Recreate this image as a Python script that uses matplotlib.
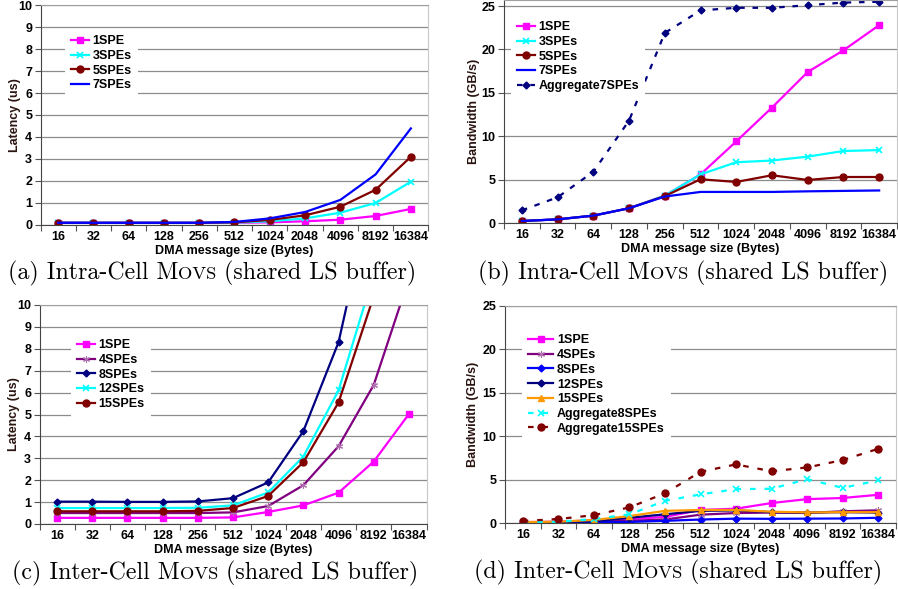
import matplotlib
matplotlib.use("Agg")
import matplotlib.pyplot as plt
from matplotlib.offsetbox import TextArea, HPacker, AnchoredOffsetbox

# message sizes on the x axis (categorical)
sizes = ["16", "32", "64", "128", "256", "512", "1024", "2048", "4096", "8192", "16384"]

# (a) intra-cell latency (us)
a_1spe = [0.1, 0.1, 0.1, 0.1, 0.1, 0.1, 0.12, 0.17, 0.24, 0.41, 0.73]
a_3spe = [0.1, 0.1, 0.1, 0.1, 0.1, 0.11, 0.17, 0.3, 0.56, 1.0, 1.97]
a_5spe = [0.1, 0.1, 0.1, 0.1, 0.1, 0.12, 0.23, 0.44, 0.83, 1.6, 3.1]
a_7spe = [0.1, 0.1, 0.1, 0.1, 0.1, 0.14, 0.3, 0.59, 1.14, 2.3, 4.39]

# (b) intra-cell bandwidth (GB/s)
b_1spe = [0.23, 0.42, 0.85, 1.7, 3.15, 5.6, 9.4, 13.3, 17.4, 19.9, 22.8]
b_3spe = [0.23, 0.42, 0.85, 1.7, 3.15, 5.6, 7.0, 7.2, 7.65, 8.3, 8.4]
b_5spe = [0.23, 0.42, 0.85, 1.7, 3.1, 5.04, 4.73, 5.5, 4.96, 5.3, 5.3]
b_7spe = [0.23, 0.42, 0.85, 1.7, 3.05, 3.58, 3.58, 3.58, 3.65, 3.7, 3.75]
b_agg7 = [1.46, 2.96, 5.9, 11.8, 21.9, 24.5, 24.8, 24.8, 25.1, 25.4, 25.5]

# (c) inter-cell latency (us)
c_1spe = [0.28, 0.28, 0.28, 0.28, 0.28, 0.3, 0.55, 0.85, 1.43, 2.85, 5.02]
c_4spe = [0.5, 0.5, 0.5, 0.5, 0.5, 0.53, 0.82, 1.77, 3.55, 6.35, 11.2]
c_8spe = [1.02, 1.02, 1.01, 1.01, 1.03, 1.18, 1.9, 4.24, 8.3, 15.5, 31.0]
c_12spe = [0.73, 0.73, 0.73, 0.73, 0.74, 0.85, 1.44, 3.08, 6.1, 11.4, 22.0]
c_15spe = [0.58, 0.58, 0.58, 0.58, 0.6, 0.73, 1.28, 2.82, 5.55, 10.4, 20.0]

# (d) inter-cell bandwidth (GB/s)
d_1spe = [0.1, 0.15, 0.3, 0.45, 0.7, 1.5, 1.65, 2.3, 2.75, 2.88, 3.25]
d_4spe = [0.05, 0.08, 0.15, 0.25, 0.4, 0.96, 1.15, 1.2, 1.15, 1.35, 1.46]
d_8spe = [0.03, 0.05, 0.08, 0.12, 0.25, 0.4, 0.5, 0.48, 0.5, 0.52, 0.6]
d_12spe = [0.05, 0.1, 0.2, 0.6, 1.0, 1.4, 1.45, 1.25, 1.2, 1.25, 1.2]
d_15spe = [0.1, 0.15, 0.35, 0.8, 1.4, 1.5, 1.5, 1.3, 1.22, 1.25, 1.25]
d_agg8 = [0.05, 0.15, 0.45, 1.0, 2.55, 3.3, 3.9, 3.95, 5.05, 4.05, 4.9]
d_agg15 = [0.23, 0.46, 0.9, 1.8, 3.42, 5.9, 6.75, 5.96, 6.4, 7.25, 8.55]

MAGENTA = "#ff00ff"
CYAN = "#00ffff"
DARKRED = "#800000"
BLUE = "#0000ff"
NAVY = "#000080"
PURPLE = "#800080"
ORANGE = "#ff9900"
STAR = (6, 2, 0)

W, H = 898, 589
FS = 9
plt.rcParams["font.family"] = ["Liberation Sans", "DejaVu Sans"]
plt.rcParams["font.weight"] = "bold"

fig = plt.figure(figsize=(W / 100, H / 100), dpi=100)


def make_axes(left, right, top, bottom, ymax, ystep, ylabel, label_x):
    ax = fig.add_axes([left / W, 1 - bottom / H, (right - left) / W, (bottom - top) / H])
    x = list(range(len(sizes)))
    ax.set_xlim(-0.5, len(sizes) - 0.5)
    ax.set_ylim(0, ymax)
    ax.set_xticks(x)
    ax.set_xticklabels(sizes, fontsize=FS, fontweight="bold")
    ax.set_xticks([i + 0.5 for i in range(-1, len(sizes))], minor=True)
    ax.tick_params(axis="x", which="major", length=0, pad=4)
    ax.tick_params(axis="x", which="minor", length=4, width=0.8, color="#555555")
    ticks = list(range(0, int(ymax) + 1, ystep))
    ax.set_yticks(ticks)
    ax.set_yticklabels([str(t) for t in ticks], fontsize=FS, fontweight="bold")
    ax.tick_params(axis="y", length=4, width=0.8, color="#555555", pad=2)
    ax.yaxis.grid(True, color="#8c8c8c", linewidth=0.9)
    ax.set_axisbelow(True)
    ax.spines["left"].set_color("#444444")
    ax.spines["bottom"].set_color("#444444")
    ax.spines["right"].set_color("#c8c8c8")
    ax.spines["top"].set_color("#a0a0a0")
    ax.set_xlabel("DMA message size (Bytes)", fontsize=FS, fontweight="bold", labelpad=2)
    ax.set_ylabel(ylabel, fontsize=FS, fontweight="bold", color="#2a1410")
    # label_x is where the (rotated) label's right edge goes, in pixels
    ax.yaxis.set_label_coords((label_x - left) / (right - left), 0.5)
    return ax, x


def add_legend(ax, x0, y0, hlen=1.4):
    ax.legend(loc="upper left", bbox_to_anchor=(x0 / W, 1 - y0 / H),
              bbox_transform=fig.transFigure, borderaxespad=0, borderpad=0.5,
              frameon=True, facecolor="white", edgecolor="none", framealpha=1,
              fancybox=False, handlelength=hlen, handletextpad=0.3,
              labelspacing=0.22, prop={"size": FS, "weight": "bold"})


def add_caption(cx, cy, tag):
    serif = {"family": "cmr10", "size": 17.2}
    small = {"family": "cmr10", "size": 13.3}
    parts = [TextArea(tag + " M", textprops=serif),
             TextArea("OVS", textprops=small),
             TextArea(" (shared LS buffer)", textprops=serif)]
    box = HPacker(children=parts, align="baseline", pad=0, sep=0)
    anchored = AnchoredOffsetbox(loc="center", child=box, pad=0, borderpad=0, frameon=False,
                                 bbox_to_anchor=(cx / W, 1 - cy / H),
                                 bbox_transform=fig.transFigure)
    fig.add_artist(anchored)


# (a)
ax, x = make_axes(40.5, 428.5, 5, 225, 10, 1, "Latency (us)", 21)
ax.plot(x, a_1spe, color=MAGENTA, lw=1.6, marker="s", ms=5, label="1SPE")
ax.plot(x, a_3spe, color=CYAN, lw=1.6, marker="x", ms=5, mew=1.2, label="3SPEs")
ax.plot(x, a_5spe, color=DARKRED, lw=1.6, marker="o", ms=5, label="5SPEs")
ax.plot(x, a_7spe, color=BLUE, lw=1.6, label="7SPEs")
add_legend(ax, 65, 29)
add_caption(212, 273, "(a) Intra-Cell")

# (b)
ax, x = make_axes(504, 897, 0, 223, 25.7, 5, "Bandwidth (GB/s)", 480)
ax.plot(x, b_1spe, color=MAGENTA, lw=1.6, marker="s", ms=5, label="1SPE")
ax.plot(x, b_3spe, color=CYAN, lw=1.6, marker="x", ms=5, mew=1.2, label="3SPEs")
ax.plot(x, b_5spe, color=DARKRED, lw=1.6, marker="o", ms=5, label="5SPEs")
ax.plot(x, b_7spe, color=BLUE, lw=1.6, label="7SPEs")
ax.plot(x, b_agg7, color=NAVY, lw=1.6, ls=(0, (2.5, 3.5)), marker="D", ms=3.5,
        label="Aggregate7SPEs")
add_legend(ax, 511, 15)
add_caption(683, 273, "(b) Intra-Cell")

# (c)
ax, x = make_axes(39.5, 426.5, 305, 524, 10, 1, "Latency (us)", 20)
ax.plot(x, c_1spe, color=MAGENTA, lw=1.6, marker="s", ms=5, label="1SPE")
ax.plot(x, c_4spe, color=PURPLE, lw=1.6, marker=STAR, ms=5, mew=0.8, mec="#b070b0",
        label="4SPEs")
ax.plot(x, c_8spe, color=NAVY, lw=1.6, marker="D", ms=3.5, label="8SPEs")
ax.plot(x, c_12spe, color=CYAN, lw=1.6, marker="x", ms=5, mew=1.2, label="12SPEs")
ax.plot(x, c_15spe, color=DARKRED, lw=1.6, marker="o", ms=5, label="15SPEs")
add_legend(ax, 71, 333)
add_caption(215, 573, "(c) Inter-Cell")

# (d)
ax, x = make_axes(505, 896, 306, 523, 25, 5, "Bandwidth (GB/s)", 479)
ax.plot(x, d_1spe, color=MAGENTA, lw=1.6, marker="s", ms=5, label="1SPE")
ax.plot(x, d_4spe, color=PURPLE, lw=1.6, marker=STAR, ms=5, mew=0.8, mec="#b070b0",
        label="4SPEs")
ax.plot(x, d_8spe, color=BLUE, lw=1.6, marker="D", ms=3.5, label="8SPEs")
ax.plot(x, d_12spe, color=NAVY, lw=1.6, marker="D", ms=3.5, label="12SPEs")
ax.plot(x, d_15spe, color=ORANGE, lw=1.6, marker="^", ms=5, label="15SPEs")
ax.plot(x, d_agg8, color=CYAN, lw=1.6, ls=(0, (2.5, 4)), marker="x", ms=5, mew=1.2,
        label="Aggregate8SPEs")
ax.plot(x, d_agg15, color=DARKRED, lw=1.6, ls=(0, (2.5, 4)), marker="o", ms=5,
        label="Aggregate15SPEs")
add_legend(ax, 522, 328, hlen=2.0)
add_caption(678, 572, "(d) Inter-Cell")

fig.savefig("out.png", dpi=100)
